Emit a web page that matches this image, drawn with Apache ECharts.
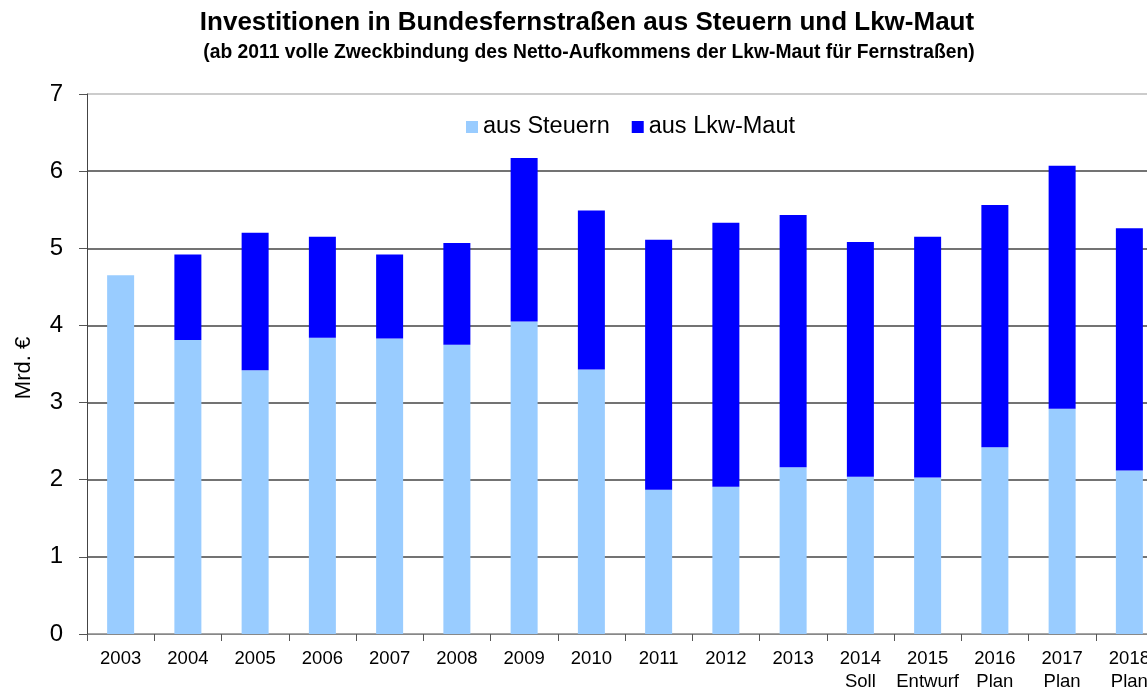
<!DOCTYPE html>
<html>
<head>
<meta charset="utf-8">
<script src="https://cdn.jsdelivr.net/npm/echarts@6/dist/echarts.min.js"></script>
<style>
html,body{margin:0;padding:0;background:#fff;overflow:hidden;width:1147px;height:693px;}
#chart{width:1163px;height:693px;}
</style>
</head>
<body>
<div id="chart"></div>
<script>
var categories = ['2003','2004','2005','2006','2007','2008','2009','2010','2011','2012','2013','2014\nSoll','2015\nEntwurf','2016\nPlan','2017\nPlan','2018\nPlan'];
var ausSteuern = [4.65,3.81,3.42,3.84,3.83,3.75,4.05,3.43,1.87,1.91,2.16,2.04,2.03,2.42,2.92,2.12];
var ausLkwMaut = [0,1.11,1.78,1.31,1.09,1.32,2.12,2.06,3.24,3.42,3.27,3.04,3.12,3.14,3.15,3.14];
var seriesNames = ['aus Steuern','aus Lkw-Maut'];
var titleText = 'Investitionen in Bundesfernstraßen aus Steuern und Lkw-Maut';
var subtitleText = '(ab 2011 volle Zweckbindung des Netto-Aufkommens der Lkw-Maut für Fernstraßen)';
var yAxisName = 'Mrd. €';

var chart = echarts.init(document.getElementById('chart'));
var font = 'Liberation Sans, Arial, sans-serif';
chart.setOption({
  animation: false,
  backgroundColor: '#fff',
  graphic: [
    {type:'text', x:587, y:10, style:{text:titleText, font:'bold 26px ' + font, fill:'#000', align:'center'}},
    {type:'text', x:589, y:43, style:{text:subtitleText, font:'bold 19.3px ' + font, fill:'#000', align:'center'}},
    {type:'text', x:24, y:368, rotation:Math.PI/2, style:{text:yAxisName, font:'22px ' + font, fill:'#000', align:'center', verticalAlign:'middle'}}
  ],
  legend: {
    data: seriesNames,
    left: 461, top: 110,
    itemWidth: 12, itemHeight: 12, itemGap: 22,
    icon: 'rect',
    textStyle: {fontFamily: font, fontSize: 23.5, color: '#000'}
  },
  grid: {left: 87, right: 0, top: 94, bottom: 52, containLabel: false},
  xAxis: {
    type: 'category',
    data: categories,
    axisLine: {lineStyle: {color: '#888', width: 1}},
    axisTick: {show: true, length: 7, lineStyle: {color: '#555'}},
    axisLabel: {fontFamily: font, fontSize: 18.5, color: '#000', margin: 13, lineHeight: 23, interval: 0}
  },
  yAxis: {
    type: 'value',
    min: 0, max: 7, interval: 1,
    axisLine: {show: true, lineStyle: {color: '#444', width: 1}},
    axisTick: {show: true, length: 8, lineStyle: {color: '#555'}},
    axisLabel: {fontFamily: font, fontSize: 24, color: '#000', margin: 24},
    splitLine: {lineStyle: {color: ['#888','#444','#444','#444','#444','#444','#444','#bbb'], width: 1.5}}
  },
  series: [
    {name: seriesNames[0], type: 'bar', stack: 'a', data: ausSteuern, barWidth: 27,
     itemStyle: {color: '#99CCFF'}},
    {name: seriesNames[1], type: 'bar', stack: 'a', data: ausLkwMaut, barWidth: 27,
     itemStyle: {color: '#0000FF'}}
  ]
});
</script>
</body>
</html>
